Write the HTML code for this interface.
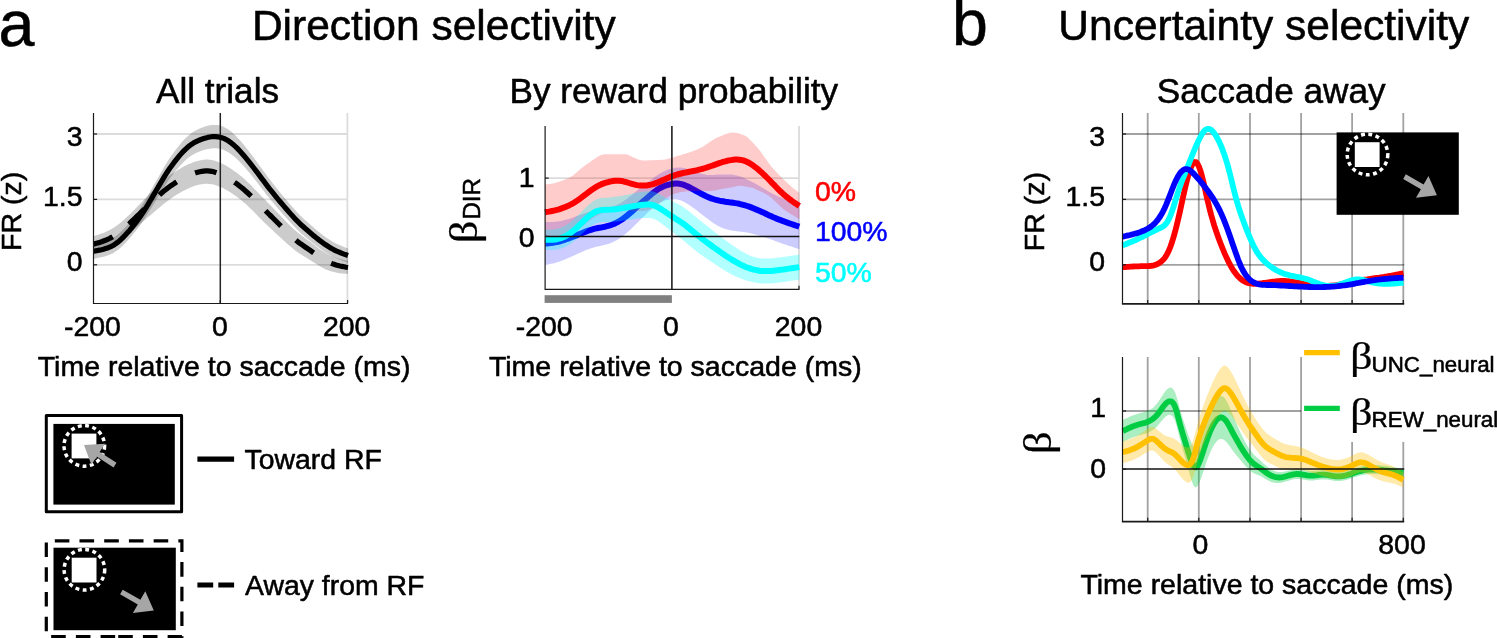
<!DOCTYPE html>
<html lang="en"><head><meta charset="utf-8"><title>Direction and uncertainty selectivity</title>
<style>
html,body{margin:0;padding:0;background:#fff;}
body{width:1497px;height:638px;overflow:hidden;}
svg{display:block;}
text{font-family:"Liberation Sans",sans-serif;fill:#000;stroke:#000;stroke-width:.55px;stroke-linejoin:round;}
.b{font-family:"Liberation Serif",serif;stroke-width:.25px;}
.t{font-size:28.4px;}
.l{font-size:28.5px;}
.h{font-size:35.2px;}
.H{font-size:42.5px;}
.P{font-size:64.5px;}
.m{text-anchor:middle;}
.e{text-anchor:end;}
.ax{stroke:#1a1a1a;stroke-width:1.2;fill:none;}
.gl{stroke:#dcdcdc;stroke-width:1.8;fill:none;}
.gd{stroke:#000;stroke-opacity:.37;stroke-width:1.8;fill:none;}
.ln{fill:none;stroke-width:5.8;stroke-linejoin:round;stroke-linecap:butt;}
</style></head><body>
<svg width="1497" height="638" viewBox="0 0 1497 638">
<rect width="1497" height="638" fill="#fff"/>
<text class="P" x="-1.5" y="46.4">a</text><text class="P" x="952" y="45.4">b</text><text class="H m" x="433.8" y="39.9">Direction selectivity</text><text class="H m" x="1263.8" y="39.8">Uncertainty selectivity</text><text class="h m" x="217.5" y="102.8">All trials</text><text class="h m" x="673.8" y="102.9">By reward probability</text><text class="h m" x="1271.2" y="102.8">Saccade away</text><path class="gl" d="M93.5,134.0H348.0"/><path class="gl" d="M93.5,199.4H348.0"/><path class="gl" d="M93.5,264.8H348.0"/><path class="gl" d="M347.4,113.0V303.5"/><path d="M93.5,236.2L95.5,235.6L97.5,235.0L99.5,234.3L101.5,233.6L103.5,232.9L105.5,232.0L107.5,231.1L109.5,230.1L111.5,229.0L113.5,227.8L115.5,226.4L117.5,225.0L119.6,223.4L121.6,221.7L123.6,220.0L125.6,218.2L127.6,216.3L129.6,214.4L131.6,212.5L133.6,210.5L135.6,208.4L137.6,206.3L139.6,204.3L141.6,202.2L143.6,200.0L145.6,197.9L147.6,195.8L149.6,193.8L151.6,191.7L153.6,189.7L155.6,187.7L157.6,185.7L159.6,183.9L161.6,182.1L163.6,180.3L165.6,178.7L167.6,177.1L169.6,175.6L171.7,174.1L173.7,172.7L175.7,171.4L177.7,170.1L179.7,168.9L181.7,167.7L183.7,166.6L185.7,165.6L187.7,164.6L189.7,163.7L191.7,162.9L193.7,162.1L195.7,161.5L197.7,160.9L199.7,160.4L201.7,160.0L203.7,159.7L205.7,159.5L207.7,159.5L209.7,159.7L211.7,160.0L213.7,160.4L215.7,161.0L217.7,161.7L219.7,162.6L221.8,163.5L223.8,164.5L225.8,165.6L227.8,166.7L229.8,168.0L231.8,169.3L233.8,170.7L235.8,172.1L237.8,173.6L239.8,175.2L241.8,176.8L243.8,178.6L245.8,180.3L247.8,182.2L249.8,184.1L251.8,186.1L253.8,188.2L255.8,190.2L257.8,192.3L259.8,194.4L261.8,196.5L263.8,198.6L265.8,200.6L267.8,202.7L269.8,204.7L271.9,206.8L273.9,208.9L275.9,211.0L277.9,213.1L279.9,215.1L281.9,217.2L283.9,219.3L285.9,221.4L287.9,223.4L289.9,225.4L291.9,227.3L293.9,229.2L295.9,231.0L297.9,232.7L299.9,234.3L301.9,235.8L303.9,237.3L305.9,238.7L307.9,240.2L309.9,241.6L311.9,243.1L313.9,244.7L315.9,246.2L317.9,247.8L319.9,249.2L321.9,250.7L324.0,252.0L326.0,253.2L328.0,254.3L330.0,255.3L332.0,256.2L334.0,257.0L336.0,257.8L338.0,258.4L340.0,259.0L342.0,259.6L344.0,260.1L346.0,260.5L348.0,261.0L348.0,274.0L346.0,273.8L344.0,273.7L342.0,273.5L340.0,273.2L338.0,272.9L336.0,272.6L334.0,272.1L332.0,271.6L330.0,271.0L328.0,270.2L326.0,269.4L324.0,268.5L321.9,267.4L319.9,266.3L317.9,265.0L315.9,263.8L313.9,262.5L311.9,261.2L309.9,259.9L307.9,258.7L305.9,257.5L303.9,256.3L301.9,255.1L299.9,253.8L297.9,252.4L295.9,251.0L293.9,249.4L291.9,247.8L289.9,246.1L287.9,244.4L285.9,242.6L283.9,240.8L281.9,239.0L279.9,237.1L277.9,235.2L275.9,233.4L273.9,231.5L271.9,229.6L269.8,227.7L267.8,225.8L265.8,223.9L263.8,221.9L261.8,219.9L259.8,217.9L257.8,215.9L255.8,213.8L253.8,211.8L251.8,209.8L249.8,207.9L247.8,206.0L245.8,204.1L243.8,202.4L241.8,200.7L239.8,199.1L237.8,197.6L235.8,196.1L233.8,194.7L231.8,193.3L229.8,192.0L227.8,190.8L225.8,189.7L223.8,188.6L221.8,187.6L219.7,186.7L217.7,185.9L215.7,185.2L213.7,184.6L211.7,184.2L209.7,183.9L207.7,183.7L205.7,183.7L203.7,183.9L201.7,184.2L199.7,184.6L197.7,185.1L195.7,185.6L193.7,186.3L191.7,187.0L189.7,187.8L187.7,188.7L185.7,189.7L183.7,190.7L181.7,191.7L179.7,192.9L177.7,194.1L175.7,195.3L173.7,196.7L171.7,198.0L169.6,199.5L167.6,200.9L165.6,202.5L163.6,204.1L161.6,205.7L159.6,207.4L157.6,209.0L155.6,210.7L153.6,212.4L151.6,214.2L149.6,215.9L147.6,217.6L145.6,219.4L143.6,221.1L141.6,222.9L139.6,224.6L137.6,226.4L135.6,228.1L133.6,229.9L131.6,231.6L129.6,233.4L127.6,235.1L125.6,236.7L123.6,238.4L121.6,239.9L119.6,241.4L117.5,242.8L115.5,244.0L113.5,245.2L111.5,246.3L109.5,247.2L107.5,248.1L105.5,248.8L103.5,249.5L101.5,250.1L99.5,250.7L97.5,251.2L95.5,251.7L93.5,252.2Z" fill="#000" fill-opacity=".2"/><path d="M93.5,243.7L95.5,243.4L97.5,243.0L99.5,242.6L101.5,242.2L103.5,241.7L105.5,241.1L107.5,240.4L109.5,239.6L111.5,238.6L113.5,237.5L115.5,236.2L117.5,234.7L119.6,233.0L121.6,231.1L123.6,229.1L125.6,226.9L127.6,224.7L129.6,222.4L131.6,219.9L133.6,217.4L135.6,214.8L137.6,212.0L139.6,209.1L141.6,206.0L143.6,202.8L145.6,199.6L147.6,196.2L149.6,192.7L151.6,189.2L153.6,185.6L155.6,182.0L157.6,178.4L159.6,174.9L161.6,171.4L163.6,167.9L165.6,164.6L167.6,161.4L169.6,158.3L171.7,155.4L173.7,152.5L175.7,149.8L177.7,147.2L179.7,144.7L181.7,142.3L183.7,140.1L185.7,138.1L187.7,136.2L189.7,134.5L191.7,133.0L193.7,131.6L195.7,130.5L197.7,129.4L199.7,128.5L201.7,127.7L203.7,127.0L205.7,126.3L207.7,125.8L209.7,125.3L211.7,125.1L213.7,124.9L215.7,124.9L217.7,125.1L219.7,125.5L221.8,126.1L223.8,126.9L225.8,127.9L227.8,129.1L229.8,130.5L231.8,132.1L233.8,133.9L235.8,135.8L237.8,137.9L239.8,140.1L241.8,142.4L243.8,144.8L245.8,147.3L247.8,149.8L249.8,152.4L251.8,155.0L253.8,157.7L255.8,160.4L257.8,163.2L259.8,165.9L261.8,168.6L263.8,171.4L265.8,174.1L267.8,176.9L269.8,179.5L271.9,182.2L273.9,184.8L275.9,187.3L277.9,189.8L279.9,192.2L281.9,194.7L283.9,197.1L285.9,199.5L287.9,201.8L289.9,204.2L291.9,206.5L293.9,208.8L295.9,211.0L297.9,213.1L299.9,215.2L301.9,217.1L303.9,219.0L305.9,220.8L307.9,222.6L309.9,224.3L311.9,226.1L313.9,227.8L315.9,229.5L317.9,231.2L319.9,232.8L321.9,234.4L324.0,235.9L326.0,237.4L328.0,238.7L330.0,240.0L332.0,241.3L334.0,242.4L336.0,243.4L338.0,244.4L340.0,245.3L342.0,246.1L344.0,247.0L346.0,247.7L348.0,248.5L348.0,262.5L346.0,261.8L344.0,261.2L342.0,260.5L340.0,259.8L338.0,259.0L336.0,258.1L334.0,257.2L332.0,256.2L330.0,255.1L328.0,253.9L326.0,252.7L324.0,251.4L321.9,250.0L319.9,248.5L317.9,247.0L315.9,245.5L313.9,243.9L311.9,242.3L309.9,240.7L307.9,239.0L305.9,237.4L303.9,235.7L301.9,234.0L299.9,232.2L297.9,230.3L295.9,228.3L293.9,226.2L291.9,224.1L289.9,221.9L287.9,219.7L285.9,217.5L283.9,215.2L281.9,213.0L279.9,210.7L277.9,208.4L275.9,206.1L273.9,203.7L271.9,201.3L269.8,198.8L267.8,196.3L265.8,193.7L263.8,191.1L261.8,188.5L259.8,185.9L257.8,183.3L255.8,180.8L253.8,178.2L251.8,175.7L249.8,173.3L247.8,170.9L245.8,168.5L243.8,166.3L241.8,164.1L239.8,161.9L237.8,159.9L235.8,158.1L233.8,156.3L231.8,154.7L229.8,153.3L227.8,152.0L225.8,150.9L223.8,150.0L221.8,149.3L219.7,148.8L217.7,148.5L215.7,148.3L213.7,148.3L211.7,148.4L209.7,148.7L207.7,149.1L205.7,149.6L203.7,150.1L201.7,150.7L199.7,151.4L197.7,152.2L195.7,153.2L193.7,154.2L191.7,155.4L189.7,156.8L187.7,158.3L185.7,160.0L183.7,161.9L181.7,163.9L179.7,166.1L177.7,168.4L175.7,170.8L173.7,173.3L171.7,176.0L169.6,178.8L167.6,181.7L165.6,184.7L163.6,187.8L161.6,191.0L159.6,194.3L157.6,197.6L155.6,200.9L153.6,204.3L151.6,207.5L149.6,210.8L147.6,214.0L145.6,217.1L143.6,220.1L141.6,223.1L139.6,225.9L137.6,228.6L135.6,231.2L133.6,233.6L131.6,236.0L129.6,238.3L127.6,240.6L125.6,242.7L123.6,244.8L121.6,246.7L119.6,248.5L117.5,250.2L115.5,251.6L113.5,252.9L111.5,253.9L109.5,254.8L107.5,255.6L105.5,256.2L103.5,256.8L101.5,257.2L99.5,257.6L97.5,258.0L95.5,258.4L93.5,258.7Z" fill="#000" fill-opacity=".2"/><path d="M220.3,113.0V303.5" stroke="#222" stroke-width="1.5"/><path class="ln" style="stroke-width:5.2" stroke="#000" stroke-dasharray="21.8 20.45" stroke-dashoffset="1.1" d="M93.5,244.2L95.5,243.6L97.5,243.0L99.5,242.4L101.5,241.8L103.5,241.0L105.5,240.3L107.5,239.4L109.5,238.5L111.5,237.4L113.5,236.2L115.5,234.9L117.5,233.5L119.6,232.0L121.6,230.4L123.6,228.8L125.6,227.0L127.6,225.2L129.6,223.4L131.6,221.5L133.6,219.6L135.6,217.7L137.6,215.7L139.6,213.8L141.6,211.8L143.6,209.9L145.6,207.9L147.6,205.9L149.6,204.0L151.6,202.1L153.6,200.2L155.6,198.3L157.6,196.5L159.6,194.7L161.6,193.0L163.6,191.3L165.6,189.7L167.6,188.1L169.6,186.7L171.7,185.2L173.7,183.9L175.7,182.5L177.7,181.3L179.7,180.1L181.7,178.9L183.7,177.9L185.7,176.9L187.7,175.9L189.7,175.0L191.7,174.2L193.7,173.5L195.7,172.8L197.7,172.3L199.7,171.8L201.7,171.4L203.7,171.1L205.7,170.9L207.7,170.9L209.7,171.1L211.7,171.4L213.7,171.8L215.7,172.4L217.7,173.1L219.7,173.9L221.8,174.8L223.8,175.7L225.8,176.8L227.8,178.0L229.8,179.2L231.8,180.4L233.8,181.8L235.8,183.2L237.8,184.6L239.8,186.2L241.8,187.8L243.8,189.4L245.8,191.2L247.8,193.0L249.8,194.9L251.8,196.8L253.8,198.8L255.8,200.8L257.8,202.9L259.8,204.9L261.8,206.9L263.8,209.0L265.8,211.0L267.8,213.0L269.8,215.0L271.9,217.0L273.9,219.0L275.9,221.0L277.9,223.0L279.9,225.0L281.9,227.0L283.9,229.0L285.9,231.0L287.9,232.9L289.9,234.8L291.9,236.7L293.9,238.5L295.9,240.2L297.9,241.8L299.9,243.3L301.9,244.7L303.9,246.1L305.9,247.5L307.9,248.8L309.9,250.2L311.9,251.6L313.9,253.0L315.9,254.5L317.9,255.9L319.9,257.3L321.9,258.6L324.0,259.8L326.0,260.9L328.0,261.9L330.0,262.8L332.0,263.6L334.0,264.3L336.0,265.0L338.0,265.5L340.0,266.0L342.0,266.4L344.0,266.8L346.0,267.2L348.0,267.5"/><path class="ln" style="stroke-width:5.2" stroke="#000" d="M93.5,251.2L95.5,250.9L97.5,250.5L99.5,250.1L101.5,249.7L103.5,249.2L105.5,248.6L107.5,248.0L109.5,247.2L111.5,246.3L113.5,245.2L115.5,243.9L117.5,242.4L119.6,240.7L121.6,238.9L123.6,236.9L125.6,234.8L127.6,232.6L129.6,230.4L131.6,228.0L133.6,225.5L135.6,223.0L137.6,220.3L139.6,217.5L141.6,214.5L143.6,211.5L145.6,208.3L147.6,205.1L149.6,201.7L151.6,198.4L153.6,194.9L155.6,191.5L157.6,188.0L159.6,184.6L161.6,181.2L163.6,177.9L165.6,174.7L167.6,171.5L169.6,168.6L171.7,165.7L173.7,162.9L175.7,160.3L177.7,157.8L179.7,155.4L181.7,153.1L183.7,151.0L185.7,149.1L187.7,147.3L189.7,145.6L191.7,144.2L193.7,142.9L195.7,141.8L197.7,140.8L199.7,140.0L201.7,139.2L203.7,138.5L205.7,137.9L207.7,137.4L209.7,137.0L211.7,136.7L213.7,136.6L215.7,136.6L217.7,136.8L219.7,137.2L221.8,137.7L223.8,138.4L225.8,139.4L227.8,140.5L229.8,141.9L231.8,143.4L233.8,145.1L235.8,146.9L237.8,148.9L239.8,151.0L241.8,153.2L243.8,155.5L245.8,157.9L247.8,160.4L249.8,162.9L251.8,165.4L253.8,168.0L255.8,170.6L257.8,173.2L259.8,175.9L261.8,178.6L263.8,181.2L265.8,183.9L267.8,186.6L269.8,189.2L271.9,191.7L273.9,194.2L275.9,196.7L277.9,199.1L279.9,201.5L281.9,203.8L283.9,206.1L285.9,208.5L287.9,210.8L289.9,213.1L291.9,215.3L293.9,217.5L295.9,219.7L297.9,221.7L299.9,223.7L301.9,225.5L303.9,227.3L305.9,229.1L307.9,230.8L309.9,232.5L311.9,234.2L313.9,235.9L315.9,237.5L317.9,239.1L319.9,240.7L321.9,242.2L324.0,243.7L326.0,245.0L328.0,246.3L330.0,247.6L332.0,248.7L334.0,249.8L336.0,250.8L338.0,251.7L340.0,252.5L342.0,253.3L344.0,254.1L346.0,254.8L348.0,255.5"/><path class="ax" d="M93.5,113.0V303.5H348.0"/><path class="ax" d="M93.5,134.0h3.6"/><path class="ax" d="M93.5,199.4h3.6"/><path class="ax" d="M93.5,264.8h3.6"/><path class="ax" d="M220.3,303.5v-3.6"/><path class="ax" d="M347.6,303.5v-3.6"/><text class="t e" x="82.5" y="146.2">3</text><text class="t e" x="82.5" y="206.4">1.5</text><text class="t e" x="82.5" y="271.2">0</text><text class="t m" x="92.4" y="336">-200</text><text class="t m" x="219.8" y="336">0</text><text class="t m" x="346.6" y="336">200</text><text class="l m" x="224.1" y="376.2">Time relative to saccade (ms)</text><text class="l m" transform="translate(21.1,211.4) rotate(-90)">FR (z)</text><path class="gl" d="M545.1,178.1H799.3"/><path class="gl" d="M799.0,126.0V289.4"/><path d="M545.0,222.1L547.0,222.1L549.0,222.1L551.0,222.0L553.0,221.9L555.0,221.8L557.0,221.6L559.0,221.3L561.0,221.0L563.0,220.5L565.0,220.0L567.0,219.5L569.0,218.9L571.0,218.2L573.0,217.5L575.0,216.8L577.0,216.1L579.0,215.3L581.0,214.6L583.0,213.9L585.0,213.2L587.0,212.5L589.1,211.9L591.1,211.3L593.1,210.7L595.1,210.2L597.1,209.8L599.1,209.5L601.1,209.2L603.1,208.9L605.1,208.5L607.1,208.1L609.1,207.7L611.1,207.1L613.1,206.4L615.1,205.7L617.1,204.8L619.1,203.8L621.1,202.7L623.1,201.4L625.1,200.1L627.1,198.7L629.1,197.1L631.1,195.6L633.1,193.9L635.1,192.3L637.1,190.6L639.1,188.9L641.1,187.3L643.1,185.7L645.1,184.2L647.1,182.7L649.1,181.2L651.1,179.7L653.1,178.2L655.1,176.7L657.1,175.3L659.1,174.0L661.1,172.9L663.1,171.8L665.1,170.9L667.1,170.1L669.1,169.3L671.1,168.7L673.2,168.2L675.2,167.7L677.2,167.4L679.2,167.4L681.2,167.5L683.2,167.9L685.2,168.3L687.2,168.9L689.2,169.6L691.2,170.2L693.2,171.0L695.2,171.7L697.2,172.4L699.2,173.0L701.2,173.6L703.2,174.1L705.2,174.6L707.2,174.9L709.2,175.1L711.2,175.1L713.2,175.0L715.2,174.8L717.2,174.6L719.2,174.5L721.2,174.5L723.2,174.5L725.2,174.4L727.2,174.4L729.2,174.5L731.2,174.6L733.2,174.8L735.2,175.2L737.2,175.6L739.2,176.2L741.2,176.8L743.2,177.6L745.2,178.5L747.2,179.4L749.2,180.4L751.2,181.4L753.2,182.5L755.2,183.6L757.3,184.7L759.3,185.9L761.3,187.1L763.3,188.3L765.3,189.5L767.3,190.7L769.3,191.9L771.3,193.0L773.3,194.1L775.3,195.0L777.3,195.9L779.3,196.8L781.3,197.6L783.3,198.5L785.3,199.2L787.3,200.0L789.3,200.7L791.3,201.5L793.3,202.2L795.3,202.9L797.3,203.5L799.3,204.2L799.3,249.2L797.3,248.5L795.3,247.9L793.3,247.2L791.3,246.6L789.3,245.9L787.3,245.3L785.3,244.6L783.3,243.9L781.3,243.2L779.3,242.5L777.3,241.8L775.3,241.0L773.3,240.3L771.3,239.5L769.3,238.8L767.3,238.2L765.3,237.5L763.3,236.9L761.3,236.3L759.3,235.7L757.3,235.1L755.2,234.5L753.2,234.0L751.2,233.5L749.2,233.0L747.2,232.6L745.2,232.3L743.2,232.0L741.2,231.7L739.2,231.5L737.2,231.3L735.2,231.1L733.2,230.8L731.2,230.5L729.2,230.0L727.2,229.5L725.2,228.9L723.2,228.2L721.2,227.5L719.2,226.6L717.2,225.6L715.2,224.3L713.2,223.0L711.2,221.5L709.2,220.0L707.2,218.6L705.2,217.1L703.2,215.5L701.2,213.9L699.2,212.4L697.2,210.8L695.2,209.3L693.2,207.8L691.2,206.4L689.2,205.0L687.2,203.7L685.2,202.5L683.2,201.5L681.2,200.6L679.2,199.9L677.2,199.5L675.2,199.3L673.2,199.4L671.1,199.5L669.1,199.8L667.1,200.1L665.1,200.6L663.1,201.2L661.1,202.0L659.1,203.1L657.1,204.3L655.1,205.8L653.1,207.5L651.1,209.4L649.1,211.3L647.1,213.2L645.1,215.2L643.1,217.2L641.1,219.1L639.1,221.1L637.1,223.0L635.1,225.0L633.1,226.9L631.1,228.9L629.1,230.7L627.1,232.6L625.1,234.3L623.1,235.9L621.1,237.4L619.1,238.7L617.1,240.0L615.1,241.1L613.1,242.1L611.1,242.9L609.1,243.7L607.1,244.3L605.1,244.8L603.1,245.3L601.1,245.7L599.1,246.2L597.1,246.6L595.1,247.1L593.1,247.7L591.1,248.3L589.1,249.0L587.0,249.8L585.0,250.6L583.0,251.4L581.0,252.3L579.0,253.2L577.0,254.1L575.0,255.0L573.0,255.9L571.0,256.8L569.0,257.7L567.0,258.6L565.0,259.4L563.0,260.2L561.0,261.0L559.0,261.7L557.0,262.3L555.0,262.9L553.0,263.4L551.0,263.8L549.0,264.3L547.0,264.7L545.0,265.1Z" fill="#0000ff" fill-opacity=".2"/><path class="ln" style="stroke-width:6" stroke="#0000ff" d="M545.0,243.6L547.0,243.4L549.0,243.2L551.0,242.9L553.0,242.7L555.0,242.3L557.0,242.0L559.0,241.5L561.0,241.0L563.0,240.4L565.0,239.7L567.0,239.0L569.0,238.3L571.0,237.5L573.0,236.7L575.0,235.9L577.0,235.1L579.0,234.3L581.0,233.5L583.0,232.7L585.0,231.9L587.0,231.1L589.1,230.4L591.1,229.8L593.1,229.2L595.1,228.7L597.1,228.2L599.1,227.8L601.1,227.5L603.1,227.1L605.1,226.7L607.1,226.2L609.1,225.7L611.1,225.0L613.1,224.2L615.1,223.4L617.1,222.4L619.1,221.2L621.1,220.0L623.1,218.7L625.1,217.2L627.1,215.6L629.1,213.9L631.1,212.2L633.1,210.4L635.1,208.6L637.1,206.8L639.1,205.0L641.1,203.2L643.1,201.4L645.1,199.7L647.1,198.0L649.1,196.3L651.1,194.5L653.1,192.9L655.1,191.3L657.1,189.8L659.1,188.5L661.1,187.5L663.1,186.5L665.1,185.7L667.1,185.1L669.1,184.6L671.1,184.1L673.2,183.8L675.2,183.5L677.2,183.5L679.2,183.7L681.2,184.1L683.2,184.7L685.2,185.4L687.2,186.3L689.2,187.3L691.2,188.3L693.2,189.4L695.2,190.5L697.2,191.6L699.2,192.7L701.2,193.8L703.2,194.8L705.2,195.8L707.2,196.7L709.2,197.6L711.2,198.3L713.2,199.0L715.2,199.6L717.2,200.1L719.2,200.6L721.2,201.0L723.2,201.3L725.2,201.7L727.2,202.0L729.2,202.3L731.2,202.5L733.2,202.8L735.2,203.1L737.2,203.4L739.2,203.8L741.2,204.3L743.2,204.8L745.2,205.4L747.2,206.0L749.2,206.7L751.2,207.4L753.2,208.2L755.2,209.1L757.3,209.9L759.3,210.8L761.3,211.7L763.3,212.6L765.3,213.5L767.3,214.5L769.3,215.4L771.3,216.3L773.3,217.2L775.3,218.0L777.3,218.9L779.3,219.7L781.3,220.4L783.3,221.2L785.3,221.9L787.3,222.6L789.3,223.3L791.3,224.0L793.3,224.7L795.3,225.4L797.3,226.0L799.3,226.7"/><path d="M545.0,184.3L547.0,184.2L549.0,184.1L551.0,183.8L553.0,183.4L555.0,182.9L557.0,182.3L559.0,181.7L561.0,181.0L563.0,180.3L565.0,179.6L567.0,178.8L569.0,178.0L571.0,176.8L573.0,175.4L575.0,173.8L577.0,172.1L579.0,170.3L581.0,168.6L583.0,166.9L585.0,165.4L587.0,164.1L589.1,162.7L591.1,161.3L593.1,159.8L595.1,158.4L597.1,157.1L599.1,155.9L601.1,155.0L603.1,154.4L605.1,154.2L607.1,154.2L609.1,154.2L611.1,154.2L613.1,154.2L615.1,154.2L617.1,154.2L619.1,154.2L621.1,154.2L623.1,154.2L625.1,154.3L627.1,154.6L629.1,155.3L631.1,156.2L633.1,157.2L635.1,158.1L637.1,159.0L639.1,159.8L641.1,160.3L643.1,160.4L645.1,160.4L647.1,160.4L649.1,160.3L651.1,160.3L653.1,160.2L655.1,160.1L657.1,160.0L659.1,159.9L661.1,159.8L663.1,159.7L665.1,159.4L667.1,159.0L669.1,158.5L671.1,158.0L673.2,157.4L675.2,156.7L677.2,156.1L679.2,155.5L681.2,154.9L683.2,154.3L685.2,153.7L687.2,153.0L689.2,152.4L691.2,151.7L693.2,150.9L695.2,150.2L697.2,149.4L699.2,148.5L701.2,147.5L703.2,146.4L705.2,145.1L707.2,143.8L709.2,142.4L711.2,141.1L713.2,139.8L715.2,138.6L717.2,137.6L719.2,136.8L721.2,135.9L723.2,135.1L725.2,134.3L727.2,133.6L729.2,133.1L731.2,132.7L733.2,132.6L735.2,132.7L737.2,133.1L739.2,133.6L741.2,134.2L743.2,135.0L745.2,135.8L747.2,137.1L749.2,138.9L751.2,140.9L753.2,143.1L755.2,145.3L757.3,147.5L759.3,150.0L761.3,152.6L763.3,155.4L765.3,158.2L767.3,161.0L769.3,163.8L771.3,166.4L773.3,168.8L775.3,171.0L777.3,173.1L779.3,175.2L781.3,177.3L783.3,179.2L785.3,181.1L787.3,183.0L789.3,184.8L791.3,186.5L793.3,188.2L795.3,189.8L797.3,191.3L799.3,192.7L799.3,219.1L797.3,217.9L795.3,216.7L793.3,215.5L791.3,214.4L789.3,213.1L787.3,211.8L785.3,210.4L783.3,208.9L781.3,207.2L779.3,205.3L777.3,203.4L775.3,201.4L773.3,199.5L771.3,197.8L769.3,196.3L767.3,195.0L765.3,193.8L763.3,192.8L761.3,191.8L759.3,190.9L757.3,189.9L755.2,188.9L753.2,188.1L751.2,187.6L749.2,187.2L747.2,186.8L745.2,186.4L743.2,185.9L741.2,185.7L739.2,185.8L737.2,186.1L735.2,186.5L733.2,187.0L731.2,187.4L729.2,187.7L727.2,188.1L725.2,188.4L723.2,188.7L721.2,189.1L719.2,189.6L717.2,190.1L715.2,190.5L713.2,190.8L711.2,190.9L709.2,190.9L707.2,190.9L705.2,190.9L703.2,190.8L701.2,190.8L699.2,190.9L697.2,191.0L695.2,191.0L693.2,191.1L691.2,191.2L689.2,191.2L687.2,191.3L685.2,191.5L683.2,191.7L681.2,192.0L679.2,192.4L677.2,192.9L675.2,193.5L673.2,194.2L671.1,195.1L669.1,196.2L667.1,197.5L665.1,199.0L663.1,200.5L661.1,202.2L659.1,203.9L657.1,205.4L655.1,206.7L653.1,207.9L651.1,209.0L649.1,209.8L647.1,210.4L645.1,210.8L643.1,210.9L641.1,210.9L639.1,211.1L637.1,211.2L635.1,211.3L633.1,211.3L631.1,211.1L629.1,210.7L627.1,210.1L625.1,209.3L623.1,208.4L621.1,207.7L619.1,207.3L617.1,207.2L615.1,207.4L613.1,207.9L611.1,208.5L609.1,209.4L607.1,210.4L605.1,211.6L603.1,212.8L601.1,213.8L599.1,214.7L597.1,215.7L595.1,216.7L593.1,217.9L591.1,219.3L589.1,220.8L587.0,222.5L585.0,224.2L583.0,225.8L581.0,227.2L579.0,228.4L577.0,229.4L575.0,230.3L573.0,231.2L571.0,232.0L569.0,232.8L567.0,233.8L565.0,234.8L563.0,235.6L561.0,236.2L559.0,236.8L557.0,237.3L555.0,237.8L553.0,238.2L551.0,238.6L549.0,239.1L547.0,239.7L545.0,240.3Z" fill="#ff0000" fill-opacity=".2"/><path class="ln" style="stroke-width:6" stroke="#ff0000" d="M545.0,212.3L547.0,211.9L549.0,211.6L551.0,211.2L553.0,210.8L555.0,210.3L557.0,209.8L559.0,209.3L561.0,208.6L563.0,207.9L565.0,207.2L567.0,206.3L569.0,205.4L571.0,204.4L573.0,203.3L575.0,202.1L577.0,200.8L579.0,199.4L581.0,197.9L583.0,196.4L585.0,194.8L587.0,193.3L589.1,191.7L591.1,190.3L593.1,188.9L595.1,187.6L597.1,186.4L599.1,185.3L601.1,184.4L603.1,183.6L605.1,182.9L607.1,182.3L609.1,181.8L611.1,181.4L613.1,181.0L615.1,180.8L617.1,180.7L619.1,180.8L621.1,180.9L623.1,181.3L625.1,181.8L627.1,182.4L629.1,183.0L631.1,183.6L633.1,184.2L635.1,184.7L637.1,185.1L639.1,185.4L641.1,185.6L643.1,185.6L645.1,185.6L647.1,185.4L649.1,185.0L651.1,184.6L653.1,184.1L655.1,183.4L657.1,182.7L659.1,181.9L661.1,181.0L663.1,180.1L665.1,179.2L667.1,178.3L669.1,177.4L671.1,176.5L673.2,175.8L675.2,175.1L677.2,174.5L679.2,174.0L681.2,173.5L683.2,173.0L685.2,172.6L687.2,172.2L689.2,171.8L691.2,171.4L693.2,171.0L695.2,170.6L697.2,170.2L699.2,169.7L701.2,169.2L703.2,168.6L705.2,168.0L707.2,167.3L709.2,166.7L711.2,166.0L713.2,165.3L715.2,164.6L717.2,163.9L719.2,163.2L721.2,162.5L723.2,161.9L725.2,161.4L727.2,160.8L729.2,160.4L731.2,160.1L733.2,159.8L735.2,159.6L737.2,159.6L739.2,159.7L741.2,160.0L743.2,160.4L745.2,161.1L747.2,162.0L749.2,163.0L751.2,164.3L753.2,165.6L755.2,167.1L757.3,168.7L759.3,170.4L761.3,172.2L763.3,174.1L765.3,176.0L767.3,178.0L769.3,180.0L771.3,182.1L773.3,184.2L775.3,186.2L777.3,188.3L779.3,190.3L781.3,192.2L783.3,194.1L785.3,195.8L787.3,197.4L789.3,199.0L791.3,200.5L793.3,201.9L795.3,203.2L797.3,204.6L799.3,205.9"/><path d="M545.0,229.8L547.0,229.8L549.0,229.7L551.0,229.6L553.0,229.4L555.0,229.2L557.0,228.8L559.0,228.3L561.0,227.6L563.0,226.7L565.0,225.7L567.0,224.6L569.0,223.2L571.0,221.7L573.0,220.0L575.0,218.2L577.0,216.3L579.0,214.3L581.0,212.2L583.0,210.2L585.0,208.2L587.0,206.2L589.1,204.4L591.1,202.8L593.1,201.3L595.1,200.1L597.1,199.2L599.1,198.5L601.1,198.1L603.1,197.8L605.1,197.7L607.1,197.6L609.1,197.5L611.1,197.3L613.1,197.1L615.1,196.8L617.1,196.6L619.1,196.2L621.1,195.9L623.1,195.5L625.1,195.1L627.1,194.7L629.1,194.3L631.1,193.9L633.1,193.5L635.1,193.1L637.1,192.7L639.1,192.3L641.1,192.0L643.1,191.7L645.1,191.5L647.1,191.3L649.1,191.2L651.1,191.3L653.1,191.6L655.1,192.2L657.1,193.0L659.1,194.0L661.1,195.0L663.1,196.1L665.1,197.3L667.1,198.4L669.1,199.5L671.1,200.6L673.2,201.7L675.2,202.7L677.2,203.7L679.2,204.7L681.2,205.8L683.2,207.1L685.2,208.4L687.2,209.9L689.2,211.4L691.2,213.1L693.2,214.8L695.2,216.4L697.2,218.1L699.2,219.7L701.2,221.3L703.2,222.9L705.2,224.5L707.2,226.1L709.2,227.7L711.2,229.3L713.2,230.8L715.2,232.4L717.2,234.0L719.2,235.5L721.2,237.0L723.2,238.6L725.2,240.0L727.2,241.5L729.2,242.9L731.2,244.3L733.2,245.7L735.2,247.1L737.2,248.4L739.2,249.7L741.2,250.9L743.2,252.1L745.2,253.2L747.2,254.2L749.2,255.2L751.2,256.0L753.2,256.7L755.2,257.3L757.3,257.8L759.3,258.2L761.3,258.4L763.3,258.5L765.3,258.6L767.3,258.6L769.3,258.5L771.3,258.4L773.3,258.2L775.3,258.0L777.3,257.8L779.3,257.5L781.3,257.2L783.3,257.0L785.3,256.7L787.3,256.4L789.3,256.1L791.3,255.8L793.3,255.5L795.3,255.2L797.3,254.9L799.3,254.6L799.3,279.6L797.3,279.9L795.3,280.2L793.3,280.5L791.3,280.8L789.3,281.1L787.3,281.4L785.3,281.7L783.3,282.0L781.3,282.2L779.3,282.5L777.3,282.8L775.3,283.0L773.3,283.2L771.3,283.4L769.3,283.5L767.3,283.6L765.3,283.6L763.3,283.5L761.3,283.4L759.3,283.2L757.3,282.9L755.2,282.6L753.2,282.2L751.2,281.8L749.2,281.3L747.2,280.8L745.2,280.2L743.2,279.5L741.2,278.8L739.2,278.0L737.2,277.1L735.2,276.2L733.2,275.2L731.2,274.2L729.2,273.0L727.2,271.9L725.2,270.7L723.2,269.5L721.2,268.2L719.2,267.0L717.2,265.7L715.2,264.4L713.2,263.1L711.2,261.7L709.2,260.4L707.2,259.0L705.2,257.7L703.2,256.3L701.2,254.8L699.2,253.4L697.2,251.9L695.2,250.3L693.2,248.7L691.2,247.1L689.2,245.4L687.2,243.8L685.2,242.1L683.2,240.4L681.2,238.8L679.2,237.3L677.2,235.7L675.2,234.2L673.2,232.6L671.1,231.1L669.1,229.4L667.1,227.8L665.1,226.2L663.1,224.7L661.1,223.2L659.1,221.8L657.1,220.6L655.1,219.6L653.1,218.8L651.1,218.3L649.1,218.0L647.1,217.9L645.1,217.9L643.1,217.9L641.1,218.1L639.1,218.3L637.1,218.5L635.1,218.8L633.1,219.0L631.1,219.4L629.1,219.7L627.1,220.0L625.1,220.3L623.1,220.6L621.1,220.9L619.1,221.2L617.1,221.4L615.1,221.6L613.1,221.8L611.1,221.9L609.1,221.9L607.1,222.0L605.1,222.0L603.1,222.0L601.1,222.2L599.1,222.5L597.1,223.0L595.1,223.8L593.1,224.8L591.1,226.1L589.1,227.6L587.0,229.2L585.0,231.0L583.0,232.8L581.0,234.7L579.0,236.6L577.0,238.4L575.0,240.2L573.0,241.9L571.0,243.4L569.0,244.8L567.0,246.0L565.0,247.0L563.0,247.9L561.0,248.6L559.0,249.1L557.0,249.5L555.0,249.8L553.0,249.9L551.0,250.0L549.0,250.0L547.0,249.9L545.0,249.8Z" fill="#00ffff" fill-opacity=".3"/><path class="ln" style="stroke-width:6" stroke="#00ffff" d="M545.0,239.8L547.0,239.8L549.0,239.8L551.0,239.8L553.0,239.7L555.0,239.5L557.0,239.2L559.0,238.7L561.0,238.1L563.0,237.3L565.0,236.4L567.0,235.3L569.0,234.0L571.0,232.6L573.0,231.0L575.0,229.2L577.0,227.4L579.0,225.4L581.0,223.5L583.0,221.5L585.0,219.6L587.0,217.7L589.1,216.0L591.1,214.4L593.1,213.1L595.1,211.9L597.1,211.1L599.1,210.5L601.1,210.1L603.1,209.9L605.1,209.8L607.1,209.8L609.1,209.7L611.1,209.6L613.1,209.4L615.1,209.2L617.1,209.0L619.1,208.7L621.1,208.4L623.1,208.1L625.1,207.7L627.1,207.3L629.1,207.0L631.1,206.6L633.1,206.3L635.1,205.9L637.1,205.6L639.1,205.3L641.1,205.0L643.1,204.8L645.1,204.7L647.1,204.6L649.1,204.6L651.1,204.8L653.1,205.2L655.1,205.9L657.1,206.8L659.1,207.9L661.1,209.1L663.1,210.4L665.1,211.7L667.1,213.1L669.1,214.5L671.1,215.8L673.2,217.1L675.2,218.4L677.2,219.7L679.2,221.0L681.2,222.3L683.2,223.7L685.2,225.2L687.2,226.8L689.2,228.4L691.2,230.1L693.2,231.7L695.2,233.4L697.2,235.0L699.2,236.5L701.2,238.1L703.2,239.6L705.2,241.1L707.2,242.6L709.2,244.0L711.2,245.5L713.2,247.0L715.2,248.4L717.2,249.8L719.2,251.2L721.2,252.6L723.2,254.0L725.2,255.4L727.2,256.7L729.2,258.0L731.2,259.2L733.2,260.5L735.2,261.6L737.2,262.8L739.2,263.8L741.2,264.9L743.2,265.8L745.2,266.7L747.2,267.5L749.2,268.2L751.2,268.9L753.2,269.5L755.2,269.9L757.3,270.3L759.3,270.7L761.3,270.9L763.3,271.0L765.3,271.1L767.3,271.1L769.3,271.0L771.3,270.9L773.3,270.7L775.3,270.5L777.3,270.3L779.3,270.0L781.3,269.7L783.3,269.5L785.3,269.2L787.3,268.9L789.3,268.6L791.3,268.3L793.3,268.0L795.3,267.7L797.3,267.4L799.3,267.1"/><path d="M545.1,236.4H799.3M671.9,126.0V289.4" stroke="#111" stroke-width="1.5" fill="none"/><path class="ax" d="M545.1,126.0V289.4H799.3"/><path class="ax" d="M545.1,178.1h3.6"/><path class="ax" d="M545.1,236.4h3.6"/><path class="ax" d="M799.0,289.4v-3.6"/><rect x="544.6" y="295.2" width="127.3" height="7.7" fill="#808080"/><text class="t e" x="534.5" y="186.7">1</text><text class="t e" x="534.5" y="247.3">0</text><text class="t m" x="544.1" y="336">-200</text><text class="t m" x="671" y="336">0</text><text class="t m" x="798.5" y="336">200</text><text class="l m" x="675.3" y="376.2">Time relative to saccade (ms)</text><text class="b" font-size="40.6" transform="translate(476.6,243.2) rotate(-90) scale(1.1,1)">β</text><text font-size="24.2" transform="translate(479.9,219.6) rotate(-90)">DIR</text><text class="t" x="815" y="201.2" style="fill:#ff0000;stroke:#ff0000">0%</text><text class="t" x="815" y="241.2" style="fill:#0000ff;stroke:#0000ff">100%</text><text class="t" x="815" y="281.8" style="fill:#00ffff;stroke:#00ffff">50%</text><path class="gd" d="M1122.5,134.0H1404.2"/><path class="gd" d="M1122.5,199.4H1404.2"/><path class="gd" d="M1122.5,264.8H1404.2"/><path class="gd" d="M1147.7,113.0V303.9"/><path class="gd" d="M1198.8,113.0V303.9"/><path class="gd" d="M1250.0,113.0V303.9"/><path class="gd" d="M1301.1,113.0V303.9"/><path class="gd" d="M1352.1,113.0V303.9"/><path class="gd" d="M1403.3,113.0V303.9"/><path class="ln" stroke="#ff0000" d="M1122.5,267.2L1124.0,267.1L1125.5,267.0L1127.0,266.9L1128.5,266.8L1130.0,266.7L1131.5,266.6L1133.0,266.5L1134.5,266.4L1136.0,266.4L1137.5,266.3L1139.0,266.3L1140.5,266.2L1142.0,266.2L1143.5,266.2L1145.0,266.2L1146.5,266.2L1148.0,266.1L1149.5,266.0L1151.1,265.9L1152.6,265.6L1154.1,265.3L1155.6,264.8L1157.1,264.2L1158.6,263.4L1160.1,262.5L1161.6,261.3L1163.1,259.8L1164.6,258.1L1166.1,255.9L1167.6,253.2L1169.1,250.0L1170.6,246.2L1172.1,241.8L1173.6,236.9L1175.1,231.6L1176.6,225.7L1178.1,219.5L1179.6,213.0L1181.1,206.1L1182.6,199.2L1184.1,192.4L1185.6,185.8L1187.1,179.7L1188.6,174.2L1190.1,169.5L1191.6,165.8L1193.1,163.2L1194.6,162.0L1196.1,162.2L1197.6,163.9L1199.1,167.0L1200.6,171.2L1202.1,176.6L1203.6,182.8L1205.1,189.4L1206.6,196.3L1208.2,203.0L1209.7,209.2L1211.2,215.0L1212.7,220.3L1214.2,225.3L1215.7,229.9L1217.2,234.2L1218.7,238.4L1220.2,242.4L1221.7,246.3L1223.2,250.0L1224.7,253.6L1226.2,256.9L1227.7,260.1L1229.2,263.1L1230.7,265.9L1232.2,268.5L1233.7,270.8L1235.2,272.9L1236.7,274.8L1238.2,276.5L1239.7,278.0L1241.2,279.3L1242.7,280.4L1244.2,281.3L1245.7,282.1L1247.2,282.7L1248.7,283.1L1250.2,283.4L1251.7,283.6L1253.2,283.8L1254.7,283.8L1256.2,283.7L1257.7,283.6L1259.2,283.5L1260.7,283.3L1262.2,283.2L1263.8,283.0L1265.3,282.8L1266.8,282.5L1268.3,282.3L1269.8,282.1L1271.3,281.9L1272.8,281.7L1274.3,281.5L1275.8,281.3L1277.3,281.2L1278.8,281.1L1280.3,281.0L1281.8,281.0L1283.3,281.0L1284.8,281.0L1286.3,281.1L1287.8,281.2L1289.3,281.4L1290.8,281.6L1292.3,281.8L1293.8,282.0L1295.3,282.2L1296.8,282.4L1298.3,282.7L1299.8,283.0L1301.3,283.2L1302.8,283.5L1304.3,283.8L1305.8,284.0L1307.3,284.3L1308.8,284.5L1310.3,284.7L1311.8,285.0L1313.3,285.2L1314.8,285.3L1316.3,285.5L1317.8,285.6L1319.4,285.8L1320.9,285.8L1322.4,285.9L1323.9,285.9L1325.4,285.9L1326.9,285.9L1328.4,285.8L1329.9,285.7L1331.4,285.6L1332.9,285.5L1334.4,285.3L1335.9,285.1L1337.4,284.8L1338.9,284.6L1340.4,284.3L1341.9,284.0L1343.4,283.7L1344.9,283.4L1346.4,283.1L1347.9,282.8L1349.4,282.5L1350.9,282.2L1352.4,281.9L1353.9,281.6L1355.4,281.3L1356.9,281.0L1358.4,280.7L1359.9,280.4L1361.4,280.2L1362.9,279.9L1364.4,279.7L1365.9,279.5L1367.4,279.3L1368.9,279.0L1370.4,278.8L1371.9,278.6L1373.4,278.4L1374.9,278.2L1376.5,278.0L1378.0,277.8L1379.5,277.6L1381.0,277.3L1382.5,277.1L1384.0,276.9L1385.5,276.6L1387.0,276.4L1388.5,276.1L1390.0,275.8L1391.5,275.6L1393.0,275.3L1394.5,275.0L1396.0,274.7L1397.5,274.5L1399.0,274.2L1400.5,273.9L1402.0,273.6L1403.5,273.3"/><path class="ln" stroke="#00ffff" d="M1122.5,245.5L1124.0,244.9L1125.5,244.3L1127.0,243.6L1128.5,243.0L1130.0,242.4L1131.5,241.8L1133.0,241.1L1134.5,240.5L1136.0,239.8L1137.5,239.1L1139.0,238.4L1140.5,237.7L1142.0,237.0L1143.5,236.3L1145.0,235.5L1146.5,234.8L1148.0,234.0L1149.5,233.2L1151.1,232.4L1152.6,231.7L1154.1,230.9L1155.6,230.2L1157.1,229.4L1158.6,228.7L1160.1,228.0L1161.6,227.3L1163.1,226.4L1164.6,225.2L1166.1,223.6L1167.6,221.5L1169.1,218.7L1170.6,215.2L1172.1,211.1L1173.6,206.5L1175.1,201.7L1176.6,196.8L1178.1,192.0L1179.6,187.4L1181.1,183.2L1182.6,179.3L1184.1,175.6L1185.6,171.9L1187.1,168.2L1188.6,164.4L1190.1,160.6L1191.6,156.8L1193.1,153.0L1194.6,149.4L1196.1,146.0L1197.6,142.6L1199.1,139.5L1200.6,136.6L1202.1,133.9L1203.6,131.7L1205.1,130.1L1206.6,129.2L1208.2,128.9L1209.7,129.2L1211.2,129.9L1212.7,131.3L1214.2,133.1L1215.7,135.3L1217.2,137.9L1218.7,140.8L1220.2,144.0L1221.7,147.5L1223.2,151.4L1224.7,155.6L1226.2,160.3L1227.7,165.4L1229.2,170.9L1230.7,176.9L1232.2,183.1L1233.7,189.3L1235.2,195.3L1236.7,200.8L1238.2,205.9L1239.7,210.6L1241.2,215.1L1242.7,219.3L1244.2,223.3L1245.7,227.2L1247.2,231.1L1248.7,234.8L1250.2,238.4L1251.7,241.8L1253.2,245.0L1254.7,248.0L1256.2,250.7L1257.7,253.1L1259.2,255.3L1260.7,257.2L1262.2,259.0L1263.8,260.6L1265.3,262.1L1266.8,263.5L1268.3,264.7L1269.8,265.9L1271.3,267.0L1272.8,268.0L1274.3,269.0L1275.8,269.9L1277.3,270.7L1278.8,271.5L1280.3,272.2L1281.8,272.8L1283.3,273.4L1284.8,273.9L1286.3,274.4L1287.8,274.8L1289.3,275.2L1290.8,275.6L1292.3,275.9L1293.8,276.2L1295.3,276.5L1296.8,276.8L1298.3,277.1L1299.8,277.4L1301.3,277.8L1302.8,278.1L1304.3,278.5L1305.8,278.9L1307.3,279.3L1308.8,279.8L1310.3,280.4L1311.8,281.0L1313.3,281.6L1314.8,282.2L1316.3,282.8L1317.8,283.3L1319.4,283.9L1320.9,284.4L1322.4,284.9L1323.9,285.3L1325.4,285.6L1326.9,285.9L1328.4,286.0L1329.9,286.1L1331.4,286.0L1332.9,285.9L1334.4,285.7L1335.9,285.5L1337.4,285.2L1338.9,284.8L1340.4,284.3L1341.9,283.8L1343.4,283.3L1344.9,282.7L1346.4,282.1L1347.9,281.6L1349.4,281.0L1350.9,280.5L1352.4,280.1L1353.9,279.8L1355.4,279.5L1356.9,279.4L1358.4,279.4L1359.9,279.5L1361.4,279.7L1362.9,279.9L1364.4,280.3L1365.9,280.6L1367.4,281.0L1368.9,281.5L1370.4,281.9L1371.9,282.3L1373.4,282.6L1374.9,282.9L1376.5,283.2L1378.0,283.4L1379.5,283.6L1381.0,283.7L1382.5,283.8L1384.0,283.9L1385.5,283.9L1387.0,283.9L1388.5,283.9L1390.0,283.8L1391.5,283.7L1393.0,283.6L1394.5,283.5L1396.0,283.4L1397.5,283.3L1399.0,283.1L1400.5,282.9L1402.0,282.8L1403.5,282.6"/><path class="ln" stroke="#0000ff" d="M1122.5,236.6L1124.0,236.3L1125.5,236.0L1127.0,235.6L1128.5,235.3L1130.0,235.0L1131.5,234.6L1133.0,234.2L1134.5,233.8L1136.0,233.4L1137.5,232.9L1139.0,232.4L1140.5,231.9L1142.0,231.3L1143.5,230.7L1145.0,230.1L1146.5,229.3L1148.0,228.5L1149.5,227.6L1151.1,226.5L1152.6,225.3L1154.1,224.0L1155.6,222.4L1157.1,220.7L1158.6,218.7L1160.1,216.5L1161.6,214.0L1163.1,211.3L1164.6,208.2L1166.1,204.9L1167.6,201.2L1169.1,197.4L1170.6,193.4L1172.1,189.5L1173.6,185.7L1175.1,182.2L1176.6,179.0L1178.1,176.2L1179.6,173.8L1181.1,171.9L1182.6,170.5L1184.1,169.6L1185.6,169.1L1187.1,169.2L1188.6,169.6L1190.1,170.5L1191.6,171.7L1193.1,173.1L1194.6,174.6L1196.1,176.3L1197.6,178.0L1199.1,179.7L1200.6,181.5L1202.1,183.4L1203.6,185.3L1205.1,187.3L1206.6,189.3L1208.2,191.3L1209.7,193.5L1211.2,195.6L1212.7,197.9L1214.2,200.3L1215.7,202.9L1217.2,205.5L1218.7,208.4L1220.2,211.4L1221.7,214.7L1223.2,218.2L1224.7,221.9L1226.2,225.8L1227.7,229.8L1229.2,234.0L1230.7,238.3L1232.2,242.7L1233.7,247.0L1235.2,251.4L1236.7,255.6L1238.2,259.7L1239.7,263.5L1241.2,267.0L1242.7,270.0L1244.2,272.7L1245.7,275.0L1247.2,276.9L1248.7,278.6L1250.2,280.0L1251.7,281.2L1253.2,282.1L1254.7,282.9L1256.2,283.5L1257.7,284.0L1259.2,284.4L1260.7,284.6L1262.2,284.8L1263.8,284.9L1265.3,284.9L1266.8,285.0L1268.3,285.0L1269.8,285.0L1271.3,285.1L1272.8,285.1L1274.3,285.2L1275.8,285.2L1277.3,285.3L1278.8,285.4L1280.3,285.5L1281.8,285.6L1283.3,285.6L1284.8,285.7L1286.3,285.8L1287.8,285.9L1289.3,286.0L1290.8,286.1L1292.3,286.2L1293.8,286.3L1295.3,286.4L1296.8,286.4L1298.3,286.5L1299.8,286.6L1301.3,286.7L1302.8,286.7L1304.3,286.8L1305.8,286.9L1307.3,286.9L1308.8,287.0L1310.3,287.0L1311.8,287.0L1313.3,287.1L1314.8,287.1L1316.3,287.1L1317.8,287.1L1319.4,287.1L1320.9,287.1L1322.4,287.1L1323.9,287.0L1325.4,287.0L1326.9,286.9L1328.4,286.8L1329.9,286.8L1331.4,286.7L1332.9,286.6L1334.4,286.5L1335.9,286.3L1337.4,286.2L1338.9,286.0L1340.4,285.9L1341.9,285.7L1343.4,285.5L1344.9,285.3L1346.4,285.1L1347.9,284.8L1349.4,284.6L1350.9,284.3L1352.4,284.1L1353.9,283.8L1355.4,283.5L1356.9,283.2L1358.4,283.0L1359.9,282.7L1361.4,282.4L1362.9,282.1L1364.4,281.8L1365.9,281.5L1367.4,281.3L1368.9,281.0L1370.4,280.8L1371.9,280.5L1373.4,280.3L1374.9,280.1L1376.5,279.9L1378.0,279.7L1379.5,279.5L1381.0,279.3L1382.5,279.2L1384.0,279.0L1385.5,278.9L1387.0,278.8L1388.5,278.6L1390.0,278.5L1391.5,278.4L1393.0,278.3L1394.5,278.2L1396.0,278.1L1397.5,278.0L1399.0,277.9L1400.5,277.9L1402.0,277.8L1403.5,277.7"/><path class="ax" d="M1122.5,113.0V303.9"/><path class="ax" style="stroke-width:1.6" d="M1121.9,303.9H1404.2"/><path class="ax" d="M1147.7,303.9v-3.8"/><path class="ax" d="M1198.8,303.9v-3.8"/><path class="ax" d="M1250.0,303.9v-3.8"/><path class="ax" d="M1301.1,303.9v-3.8"/><path class="ax" d="M1352.1,303.9v-3.8"/><path class="ax" d="M1403.3,303.9v-3.8"/><path class="ax" d="M1122.5,134.0h3.6"/><path class="ax" d="M1122.5,199.4h3.6"/><path class="ax" d="M1122.5,264.8h3.6"/><text class="t e" x="1105" y="146.0">3</text><text class="t e" x="1105" y="206.2">1.5</text><text class="t e" x="1105" y="271.4">0</text><text class="l m" transform="translate(1044,211.6) rotate(-90)">FR (z)</text><rect x="1336.6" y="132.4" width="122.2" height="82.4" fill="#000"/><rect x="1354.8" y="142.2" width="24.8" height="24.8" fill="#fff"/><circle cx="1367.5" cy="154.5" r="20.3" fill="none" stroke="#fff" stroke-width="3.5" stroke-dasharray="3.9 3.476"/><polygon fill="#a6a6a6" points="1403.2,178.9 1420.9,189.2 1416.0,197.7 1436.9,195.3 1428.5,176.0 1423.6,184.5 1405.8,174.3"/><path class="gd" d="M1122.5,411.0H1301.1"/><path class="gd" d="M1147.7,357.0V521.6"/><path class="gd" d="M1198.8,357.0V521.6"/><path class="gd" d="M1250.0,357.0V521.6"/><path class="gd" d="M1301.1,357.0V521.6"/><path class="gd" d="M1352.1,441.9V521.6"/><path class="gd" d="M1403.3,441.9V521.6"/><path d="M1122.8,420.1L1124.3,419.3L1125.8,418.6L1127.3,417.9L1128.8,417.1L1130.3,416.5L1131.8,415.8L1133.3,415.2L1134.8,414.7L1136.3,414.2L1137.8,413.7L1139.3,413.3L1140.8,412.9L1142.3,412.5L1143.8,412.1L1145.3,411.7L1146.8,411.2L1148.3,410.5L1149.8,409.8L1151.3,409.0L1152.8,407.9L1154.3,406.5L1155.8,405.0L1157.3,403.1L1158.8,401.0L1160.3,398.7L1161.8,396.4L1163.3,394.1L1164.8,391.9L1166.3,390.1L1167.8,388.7L1169.3,387.8L1170.8,387.6L1172.3,388.2L1173.8,389.9L1175.3,393.0L1176.8,397.6L1178.3,402.9L1179.8,408.4L1181.3,413.6L1182.8,418.4L1184.3,423.1L1185.8,427.7L1187.3,432.0L1188.8,436.2L1190.3,440.1L1191.8,443.7L1193.3,446.3L1194.8,447.7L1196.3,447.2L1197.8,445.2L1199.3,442.0L1200.8,437.9L1202.3,433.4L1203.8,428.6L1205.3,423.8L1206.8,419.2L1208.3,414.9L1209.8,411.0L1211.3,407.4L1212.8,404.3L1214.3,401.6L1215.8,399.4L1217.3,397.7L1218.8,396.5L1220.3,395.9L1221.8,395.9L1223.3,396.7L1224.8,398.3L1226.3,400.5L1227.8,403.3L1229.3,406.5L1230.8,410.0L1232.3,413.6L1233.8,417.2L1235.3,420.8L1236.8,424.3L1238.3,427.7L1239.8,431.0L1241.3,434.2L1242.8,437.3L1244.3,440.2L1245.8,442.9L1247.3,445.5L1248.8,447.9L1250.3,450.1L1251.8,452.1L1253.3,453.9L1254.8,455.5L1256.3,456.9L1257.8,458.3L1259.3,459.6L1260.8,461.0L1262.3,462.3L1263.8,463.7L1265.3,465.0L1266.8,466.2L1268.3,467.4L1269.8,468.5L1271.3,469.4L1272.8,470.2L1274.3,470.9L1275.8,471.4L1277.3,471.7L1278.8,472.0L1280.3,472.0L1281.8,471.9L1283.3,471.8L1284.8,471.5L1286.3,471.2L1287.8,470.8L1289.3,470.4L1290.8,470.0L1292.3,469.7L1293.8,469.4L1295.3,469.2L1296.8,469.1L1298.3,469.1L1299.8,469.2L1301.3,469.5L1302.8,469.8L1304.3,470.1L1305.8,470.4L1307.3,470.6L1308.8,470.8L1310.3,470.9L1311.8,470.9L1313.3,470.8L1314.8,470.7L1316.3,470.5L1317.8,470.4L1319.3,470.2L1320.8,470.1L1322.3,470.0L1323.8,470.0L1325.3,470.1L1326.8,470.2L1328.3,470.4L1329.8,470.7L1331.3,470.9L1332.8,471.2L1334.3,471.4L1335.8,471.6L1337.3,471.7L1338.8,471.8L1340.3,471.7L1341.8,471.6L1343.3,471.4L1344.8,471.0L1346.3,470.7L1347.8,470.2L1349.3,469.8L1350.8,469.3L1352.3,468.8L1353.8,468.3L1355.3,467.8L1356.8,467.4L1358.3,467.0L1359.8,466.6L1361.3,466.2L1362.8,465.9L1364.3,465.7L1365.8,465.4L1367.3,465.3L1368.8,465.1L1370.3,465.0L1371.8,465.0L1373.3,465.0L1374.8,465.0L1376.3,465.0L1377.8,465.1L1379.3,465.2L1380.8,465.4L1382.3,465.5L1383.8,465.7L1385.3,465.8L1386.8,466.0L1388.3,466.2L1389.8,466.5L1391.3,466.7L1392.8,466.9L1394.3,467.2L1395.8,467.4L1397.3,467.7L1398.8,468.0L1400.3,468.2L1401.8,468.5L1403.3,468.8L1403.3,477.8L1401.8,477.5L1400.3,477.2L1398.8,477.0L1397.3,476.7L1395.8,476.4L1394.3,476.2L1392.8,475.9L1391.3,475.7L1389.8,475.5L1388.3,475.3L1386.8,475.0L1385.3,474.9L1383.8,474.7L1382.3,474.5L1380.8,474.4L1379.3,474.3L1377.8,474.2L1376.3,474.1L1374.8,474.0L1373.3,474.0L1371.8,474.1L1370.3,474.1L1368.8,474.2L1367.3,474.3L1365.8,474.5L1364.3,474.8L1362.8,475.0L1361.3,475.3L1359.8,475.7L1358.3,476.1L1356.8,476.5L1355.3,477.0L1353.8,477.4L1352.3,477.9L1350.8,478.4L1349.3,478.9L1347.8,479.4L1346.3,479.9L1344.8,480.3L1343.3,480.6L1341.8,480.8L1340.3,481.0L1338.8,481.1L1337.3,481.0L1335.8,480.9L1334.3,480.7L1332.8,480.5L1331.3,480.3L1329.8,480.0L1328.3,479.8L1326.8,479.6L1325.3,479.5L1323.8,479.4L1322.3,479.4L1320.8,479.5L1319.3,479.7L1317.8,479.9L1316.3,480.1L1314.8,480.3L1313.3,480.4L1311.8,480.5L1310.3,480.6L1308.8,480.5L1307.3,480.3L1305.8,480.1L1304.3,479.8L1302.8,479.5L1301.3,479.3L1299.8,479.1L1298.3,478.9L1296.8,478.9L1295.3,479.1L1293.8,479.3L1292.3,479.6L1290.8,480.0L1289.3,480.4L1287.8,480.9L1286.3,481.3L1284.8,481.8L1283.3,482.2L1281.8,482.6L1280.3,482.9L1278.8,483.0L1277.3,483.1L1275.8,483.0L1274.3,482.8L1272.8,482.4L1271.3,481.9L1269.8,481.3L1268.3,480.6L1266.8,479.8L1265.3,478.9L1263.8,478.0L1262.3,477.1L1260.8,476.3L1259.3,475.6L1257.8,475.0L1256.3,474.3L1254.8,473.7L1253.3,472.9L1251.8,472.0L1250.3,470.9L1248.8,469.6L1247.3,468.1L1245.8,466.5L1244.3,464.7L1242.8,462.9L1241.3,461.1L1239.8,459.4L1238.3,457.6L1236.8,455.8L1235.3,453.9L1233.8,451.9L1232.3,449.9L1230.8,447.8L1229.3,445.7L1227.8,443.7L1226.3,442.0L1224.8,440.6L1223.3,439.6L1221.8,439.1L1220.3,439.1L1218.8,439.6L1217.3,440.8L1215.8,442.4L1214.3,444.6L1212.8,447.1L1211.3,450.1L1209.8,453.5L1208.3,457.2L1206.8,461.3L1205.3,465.6L1203.8,470.2L1202.3,474.7L1200.8,478.9L1199.3,482.7L1197.8,485.6L1196.3,487.3L1194.8,487.2L1193.3,485.0L1191.8,481.1L1190.3,476.2L1188.8,470.9L1187.3,465.5L1185.8,460.1L1184.3,454.8L1182.8,449.5L1181.3,444.1L1179.8,438.4L1178.3,432.4L1176.8,426.6L1175.3,421.6L1173.8,418.1L1172.3,416.0L1170.8,415.0L1169.3,414.7L1167.8,415.2L1166.3,416.1L1164.8,417.4L1163.3,419.0L1161.8,420.8L1160.3,422.6L1158.8,424.5L1157.3,426.2L1155.8,427.7L1154.3,428.9L1152.8,430.0L1151.3,431.0L1149.8,431.8L1148.3,432.5L1146.8,433.2L1145.3,433.7L1143.8,434.1L1142.3,434.5L1140.8,434.9L1139.3,435.3L1137.8,435.7L1136.3,436.2L1134.8,436.7L1133.3,437.2L1131.8,437.8L1130.3,438.5L1128.8,439.1L1127.3,439.9L1125.8,440.6L1124.3,441.3L1122.8,442.1Z" fill="#00cc44" fill-opacity=".33"/><path class="ln" stroke="#00cc44" d="M1122.8,431.1L1124.3,430.3L1125.8,429.6L1127.3,428.9L1128.8,428.1L1130.3,427.5L1131.8,426.8L1133.3,426.2L1134.8,425.7L1136.3,425.2L1137.8,424.7L1139.3,424.3L1140.8,423.9L1142.3,423.5L1143.8,423.1L1145.3,422.7L1146.8,422.2L1148.3,421.5L1149.8,420.8L1151.3,420.0L1152.8,418.9L1154.3,417.7L1155.8,416.3L1157.3,414.7L1158.8,412.7L1160.3,410.7L1161.8,408.6L1163.3,406.5L1164.8,404.7L1166.3,403.1L1167.8,401.9L1169.3,401.3L1170.8,401.3L1172.3,402.1L1173.8,404.0L1175.3,407.3L1176.8,412.1L1178.3,417.7L1179.8,423.4L1181.3,428.8L1182.8,434.0L1184.3,438.9L1185.8,443.9L1187.3,448.8L1188.8,453.6L1190.3,458.2L1191.8,462.4L1193.3,465.7L1194.8,467.4L1196.3,467.3L1197.8,465.4L1199.3,462.3L1200.8,458.4L1202.3,454.0L1203.8,449.4L1205.3,444.7L1206.8,440.3L1208.3,436.1L1209.8,432.2L1211.3,428.8L1212.8,425.7L1214.3,423.1L1215.8,420.9L1217.3,419.2L1218.8,418.1L1220.3,417.5L1221.8,417.5L1223.3,418.2L1224.8,419.4L1226.3,421.2L1227.8,423.5L1229.3,426.1L1230.8,428.9L1232.3,431.8L1233.8,434.6L1235.3,437.3L1236.8,440.0L1238.3,442.6L1239.8,445.2L1241.3,447.7L1242.8,450.1L1244.3,452.4L1245.8,454.7L1247.3,456.8L1248.8,458.8L1250.3,460.5L1251.8,462.1L1253.3,463.4L1254.8,464.6L1256.3,465.6L1257.8,466.6L1259.3,467.6L1260.8,468.6L1262.3,469.7L1263.8,470.8L1265.3,472.0L1266.8,473.0L1268.3,474.0L1269.8,474.9L1271.3,475.7L1272.8,476.3L1274.3,476.8L1275.8,477.2L1277.3,477.4L1278.8,477.5L1280.3,477.4L1281.8,477.3L1283.3,477.0L1284.8,476.6L1286.3,476.2L1287.8,475.8L1289.3,475.4L1290.8,475.0L1292.3,474.6L1293.8,474.3L1295.3,474.1L1296.8,474.0L1298.3,474.0L1299.8,474.1L1301.3,474.4L1302.8,474.6L1304.3,474.9L1305.8,475.2L1307.3,475.5L1308.8,475.7L1310.3,475.7L1311.8,475.7L1313.3,475.6L1314.8,475.5L1316.3,475.3L1317.8,475.1L1319.3,474.9L1320.8,474.8L1322.3,474.7L1323.8,474.7L1325.3,474.8L1326.8,474.9L1328.3,475.1L1329.8,475.4L1331.3,475.6L1332.8,475.9L1334.3,476.1L1335.8,476.3L1337.3,476.4L1338.8,476.4L1340.3,476.4L1341.8,476.2L1343.3,476.0L1344.8,475.7L1346.3,475.3L1347.8,474.8L1349.3,474.4L1350.8,473.9L1352.3,473.4L1353.8,472.9L1355.3,472.4L1356.8,471.9L1358.3,471.5L1359.8,471.1L1361.3,470.8L1362.8,470.5L1364.3,470.2L1365.8,470.0L1367.3,469.8L1368.8,469.7L1370.3,469.6L1371.8,469.5L1373.3,469.5L1374.8,469.5L1376.3,469.6L1377.8,469.6L1379.3,469.7L1380.8,469.9L1382.3,470.0L1383.8,470.2L1385.3,470.3L1386.8,470.5L1388.3,470.7L1389.8,471.0L1391.3,471.2L1392.8,471.4L1394.3,471.7L1395.8,471.9L1397.3,472.2L1398.8,472.5L1400.3,472.7L1401.8,473.0L1403.3,473.3"/><path d="M1122.8,441.2L1124.3,440.8L1125.8,440.4L1127.3,439.9L1128.8,439.4L1130.3,438.9L1131.8,438.4L1133.3,437.7L1134.8,437.0L1136.3,436.3L1137.8,435.4L1139.3,434.5L1140.8,433.5L1142.3,432.5L1143.8,431.4L1145.3,430.4L1146.8,429.3L1148.3,428.3L1149.8,427.5L1151.3,427.1L1152.8,427.1L1154.3,427.6L1155.8,428.5L1157.3,429.6L1158.8,430.9L1160.3,432.1L1161.8,433.3L1163.3,434.4L1164.8,435.3L1166.3,436.0L1167.8,436.6L1169.3,437.0L1170.8,437.3L1172.3,437.8L1173.8,438.4L1175.3,439.4L1176.8,440.5L1178.3,441.8L1179.8,443.1L1181.3,444.4L1182.8,445.6L1184.3,446.6L1185.8,447.3L1187.3,447.5L1188.8,447.2L1190.3,446.1L1191.8,443.8L1193.3,439.9L1194.8,434.6L1196.3,428.7L1197.8,422.9L1199.3,417.7L1200.8,412.9L1202.3,408.5L1203.8,404.3L1205.3,400.3L1206.8,396.4L1208.3,392.6L1209.8,389.0L1211.3,385.5L1212.8,382.1L1214.3,379.0L1215.8,376.0L1217.3,373.3L1218.8,370.8L1220.3,368.7L1221.8,367.0L1223.3,365.9L1224.8,365.6L1226.3,366.1L1227.8,367.4L1229.3,369.2L1230.8,371.4L1232.3,374.0L1233.8,376.8L1235.3,379.8L1236.8,383.0L1238.3,386.1L1239.8,389.3L1241.3,392.5L1242.8,395.7L1244.3,398.8L1245.8,401.8L1247.3,404.7L1248.8,407.5L1250.3,410.2L1251.8,412.8L1253.3,415.3L1254.8,417.7L1256.3,420.0L1257.8,422.3L1259.3,424.5L1260.8,426.6L1262.3,428.6L1263.8,430.4L1265.3,432.0L1266.8,433.4L1268.3,434.5L1269.8,435.5L1271.3,436.5L1272.8,437.4L1274.3,438.4L1275.8,439.3L1277.3,440.2L1278.8,441.1L1280.3,441.9L1281.8,442.7L1283.3,443.3L1284.8,443.9L1286.3,444.3L1287.8,444.7L1289.3,445.0L1290.8,445.3L1292.3,445.6L1293.8,445.8L1295.3,446.1L1296.8,446.3L1298.3,446.7L1299.8,447.0L1301.3,447.5L1302.8,448.0L1304.3,448.6L1305.8,449.3L1307.3,450.0L1308.8,450.7L1310.3,451.5L1311.8,452.3L1313.3,453.0L1314.8,453.8L1316.3,454.5L1317.8,455.1L1319.3,455.8L1320.8,456.4L1322.3,456.9L1323.8,457.5L1325.3,457.9L1326.8,458.4L1328.3,458.7L1329.8,459.1L1331.3,459.4L1332.8,459.6L1334.3,459.8L1335.8,459.9L1337.3,459.9L1338.8,459.8L1340.3,459.7L1341.8,459.4L1343.3,459.1L1344.8,458.7L1346.3,458.2L1347.8,457.6L1349.3,457.0L1350.8,456.3L1352.3,455.6L1353.8,454.8L1355.3,454.0L1356.8,453.3L1358.3,452.8L1359.8,452.4L1361.3,452.3L1362.8,452.5L1364.3,452.8L1365.8,453.4L1367.3,454.2L1368.8,455.0L1370.3,455.9L1371.8,456.8L1373.3,457.7L1374.8,458.6L1376.3,459.4L1377.8,460.2L1379.3,461.0L1380.8,461.8L1382.3,462.4L1383.8,463.0L1385.3,463.6L1386.8,464.1L1388.3,464.6L1389.8,465.1L1391.3,465.6L1392.8,466.2L1394.3,466.9L1395.8,467.7L1397.3,468.5L1398.8,469.4L1400.3,470.3L1401.8,471.3L1403.3,472.3L1403.3,487.5L1401.8,486.8L1400.3,486.1L1398.8,485.5L1397.3,484.9L1395.8,484.3L1394.3,483.8L1392.8,483.4L1391.3,483.0L1389.8,482.7L1388.3,482.4L1386.8,482.1L1385.3,481.8L1383.8,481.5L1382.3,481.0L1380.8,480.6L1379.3,480.0L1377.8,479.4L1376.3,478.7L1374.8,478.0L1373.3,477.2L1371.8,476.4L1370.3,475.6L1368.8,474.8L1367.3,474.0L1365.8,473.4L1364.3,472.8L1362.8,472.4L1361.3,472.3L1359.8,472.4L1358.3,472.8L1356.8,473.3L1355.3,473.9L1353.8,474.6L1352.3,475.4L1350.8,476.0L1349.3,476.7L1347.8,477.2L1346.3,477.7L1344.8,478.1L1343.3,478.4L1341.8,478.7L1340.3,478.9L1338.8,478.9L1337.3,478.9L1335.8,478.8L1334.3,478.7L1332.8,478.5L1331.3,478.2L1329.8,477.9L1328.3,477.5L1326.8,477.2L1325.3,476.8L1323.8,476.4L1322.3,476.0L1320.8,475.5L1319.3,475.1L1317.8,474.6L1316.3,474.2L1314.8,473.7L1313.3,473.2L1311.8,472.7L1310.3,472.2L1308.8,471.7L1307.3,471.2L1305.8,470.8L1304.3,470.5L1302.8,470.2L1301.3,470.0L1299.8,469.9L1298.3,469.8L1296.8,469.8L1295.3,469.9L1293.8,469.9L1292.3,470.0L1290.8,470.0L1289.3,470.0L1287.8,470.0L1286.3,469.9L1284.8,469.7L1283.3,469.3L1281.8,468.9L1280.3,468.4L1278.8,467.8L1277.3,467.1L1275.8,466.3L1274.3,465.6L1272.8,464.8L1271.3,464.1L1269.8,463.3L1268.3,462.5L1266.8,461.5L1265.3,460.4L1263.8,459.0L1262.3,457.4L1260.8,455.7L1259.3,453.9L1257.8,451.9L1256.3,450.0L1254.8,448.0L1253.3,446.1L1251.8,444.2L1250.3,442.3L1248.8,440.4L1247.3,438.5L1245.8,436.5L1244.3,434.4L1242.8,432.3L1241.3,430.2L1239.8,428.0L1238.3,425.7L1236.8,423.5L1235.3,421.2L1233.8,419.0L1232.3,416.9L1230.8,415.0L1229.3,413.3L1227.8,411.9L1226.3,411.0L1224.8,410.6L1223.3,410.9L1221.8,411.8L1220.3,413.3L1218.8,415.1L1217.3,417.2L1215.8,419.5L1214.3,422.0L1212.8,424.6L1211.3,427.5L1209.8,430.5L1208.3,433.6L1206.8,436.9L1205.3,440.4L1203.8,444.0L1202.3,447.8L1200.8,451.8L1199.3,456.2L1197.8,461.0L1196.3,466.4L1194.8,471.9L1193.3,476.8L1191.8,480.2L1190.3,482.1L1188.8,482.8L1187.3,482.6L1185.8,481.8L1184.3,480.6L1182.8,479.1L1181.3,477.3L1179.8,475.4L1178.3,473.5L1176.8,471.6L1175.3,469.9L1173.8,468.5L1172.3,467.3L1170.8,466.2L1169.3,465.3L1167.8,464.3L1166.3,463.2L1164.8,461.9L1163.3,460.4L1161.8,458.8L1160.3,457.2L1158.8,455.5L1157.3,453.8L1155.8,452.4L1154.3,451.2L1152.8,450.5L1151.3,450.4L1149.8,450.7L1148.3,451.4L1146.8,452.2L1145.3,453.2L1143.8,454.2L1142.3,455.1L1140.8,456.1L1139.3,457.0L1137.8,457.8L1136.3,458.6L1134.8,459.3L1133.3,459.9L1131.8,460.5L1130.3,461.0L1128.8,461.5L1127.3,462.0L1125.8,462.4L1124.3,462.8L1122.8,463.2Z" fill="#ffc000" fill-opacity=".33"/><path class="ln" stroke="#ffc000" d="M1122.8,452.2L1124.3,451.8L1125.8,451.4L1127.3,450.9L1128.8,450.5L1130.3,450.0L1131.8,449.4L1133.3,448.8L1134.8,448.2L1136.3,447.4L1137.8,446.6L1139.3,445.7L1140.8,444.8L1142.3,443.8L1143.8,442.8L1145.3,441.8L1146.8,440.8L1148.3,439.8L1149.8,439.1L1151.3,438.8L1152.8,438.8L1154.3,439.4L1155.8,440.4L1157.3,441.7L1158.8,443.2L1160.3,444.6L1161.8,446.1L1163.3,447.4L1164.8,448.6L1166.3,449.6L1167.8,450.5L1169.3,451.1L1170.8,451.8L1172.3,452.5L1173.8,453.4L1175.3,454.7L1176.8,456.1L1178.3,457.7L1179.8,459.3L1181.3,460.9L1182.8,462.4L1184.3,463.6L1185.8,464.6L1187.3,465.0L1188.8,465.0L1190.3,464.1L1191.8,462.0L1193.3,458.3L1194.8,453.2L1196.3,447.5L1197.8,442.0L1199.3,436.9L1200.8,432.3L1202.3,428.1L1203.8,424.2L1205.3,420.4L1206.8,416.7L1208.3,413.1L1209.8,409.7L1211.3,406.5L1212.8,403.4L1214.3,400.5L1215.8,397.7L1217.3,395.2L1218.8,393.0L1220.3,391.0L1221.8,389.4L1223.3,388.4L1224.8,388.1L1226.3,388.5L1227.8,389.6L1229.3,391.2L1230.8,393.2L1232.3,395.5L1233.8,397.9L1235.3,400.5L1236.8,403.2L1238.3,405.9L1239.8,408.7L1241.3,411.3L1242.8,414.0L1244.3,416.6L1245.8,419.1L1247.3,421.6L1248.8,424.0L1250.3,426.3L1251.8,428.5L1253.3,430.7L1254.8,432.8L1256.3,435.0L1257.8,437.1L1259.3,439.2L1260.8,441.2L1262.3,443.0L1263.8,444.7L1265.3,446.2L1266.8,447.4L1268.3,448.5L1269.8,449.4L1271.3,450.3L1272.8,451.1L1274.3,452.0L1275.8,452.8L1277.3,453.7L1278.8,454.4L1280.3,455.1L1281.8,455.8L1283.3,456.3L1284.8,456.8L1286.3,457.1L1287.8,457.3L1289.3,457.5L1290.8,457.7L1292.3,457.8L1293.8,457.9L1295.3,458.0L1296.8,458.1L1298.3,458.2L1299.8,458.5L1301.3,458.7L1302.8,459.1L1304.3,459.6L1305.8,460.1L1307.3,460.6L1308.8,461.2L1310.3,461.8L1311.8,462.5L1313.3,463.1L1314.8,463.7L1316.3,464.3L1317.8,464.9L1319.3,465.4L1320.8,466.0L1322.3,466.5L1323.8,466.9L1325.3,467.4L1326.8,467.8L1328.3,468.1L1329.8,468.5L1331.3,468.8L1332.8,469.0L1334.3,469.2L1335.8,469.3L1337.3,469.4L1338.8,469.4L1340.3,469.3L1341.8,469.1L1343.3,468.8L1344.8,468.4L1346.3,468.0L1347.8,467.4L1349.3,466.8L1350.8,466.2L1352.3,465.5L1353.8,464.7L1355.3,464.0L1356.8,463.3L1358.3,462.8L1359.8,462.4L1361.3,462.3L1362.8,462.5L1364.3,462.8L1365.8,463.4L1367.3,464.1L1368.8,464.9L1370.3,465.7L1371.8,466.6L1373.3,467.4L1374.8,468.3L1376.3,469.1L1377.8,469.8L1379.3,470.5L1380.8,471.2L1382.3,471.7L1383.8,472.2L1385.3,472.7L1386.8,473.1L1388.3,473.5L1389.8,473.9L1391.3,474.3L1392.8,474.8L1394.3,475.4L1395.8,476.0L1397.3,476.7L1398.8,477.4L1400.3,478.2L1401.8,479.1L1403.3,479.9"/><path d="M1122.5,469.1H1404.2" stroke="#111" stroke-width="1.5" fill="none"/><path class="ax" d="M1122.5,357.0V521.6"/><path class="ax" style="stroke-width:1.6" d="M1121.9,521.6H1404.2"/><path class="ax" d="M1147.7,521.6v-3.8"/><path class="ax" d="M1198.8,521.6v-3.8"/><path class="ax" d="M1250.0,521.6v-3.8"/><path class="ax" d="M1301.1,521.6v-3.8"/><path class="ax" d="M1352.1,521.6v-3.8"/><path class="ax" d="M1403.3,521.6v-3.8"/><path class="ax" d="M1122.5,411.0h3.6"/><path class="ax" d="M1122.5,469.1h3.6"/><text class="t e" x="1106" y="417.4">1</text><text class="t e" x="1106" y="477.6">0</text><text class="t m" x="1200.3" y="554">0</text><text class="t m" x="1402" y="554">800</text><text class="l m" x="1266.8" y="594.2">Time relative to saccade (ms)</text><text class="b" font-size="40.4" transform="translate(1050.8,454.1) rotate(-90) scale(1.1,1)">β</text><path d="M1304.1,352.7H1339.8" stroke="#ffc000" stroke-width="5.3"/><path d="M1304.1,408.4H1339.8" stroke="#00cc44" stroke-width="5.3"/><text class="b" font-size="37" transform="translate(1350.2,369.1) scale(1.18,1)">β</text><text font-size="22.35" x="1371.6" y="371.7">UNC_neural</text><text class="b" font-size="37" transform="translate(1350.2,424.8) scale(1.18,1)">β</text><text font-size="22.35" x="1371.6" y="427.4">REW_neural</text><rect x="46.3" y="415.5" width="135.3" height="96.2" fill="none" stroke="#000" stroke-width="3" stroke-linejoin="round"/><rect x="53.4" y="423.9" width="121.4" height="80.7" fill="#000"/><rect x="71.6" y="433.6" width="24.8" height="24.8" fill="#fff"/><circle cx="84.3" cy="445.9" r="20.3" fill="none" stroke="#fff" stroke-width="3.5" stroke-dasharray="3.9 3.476"/><polygon fill="#a6a6a6" points="116.5,462.8 99.7,452.0 105.0,443.8 84.0,445.1 91.4,464.8 96.7,456.5 113.5,467.4"/><path d="M118.2,636.5H181.9V540.9H46.3V636.5Z" fill="none" stroke="#000" stroke-width="3.2" stroke-dasharray="14.6 10.11"/><rect x="53.5" y="547.7" width="122.3" height="82.5" fill="#000"/><rect x="71.7" y="557.7" width="24.8" height="24.8" fill="#fff"/><circle cx="84.4" cy="569.7" r="20.3" fill="none" stroke="#fff" stroke-width="3.5" stroke-dasharray="3.9 3.476"/><polygon fill="#a6a6a6" points="120.1,594.3 137.8,604.4 132.9,612.9 153.8,610.4 145.3,591.2 140.4,599.7 122.7,589.7"/><path d="M197.4,459.2H234.1" stroke="#000" stroke-width="5.2"/><path d="M197.4,585H213.2M218.3,585H234.1" stroke="#000" stroke-width="5.2"/><text class="t" x="244.5" y="469.3">Toward RF</text><text class="t" x="245" y="594.5">Away from RF</text></svg>
</body></html>
